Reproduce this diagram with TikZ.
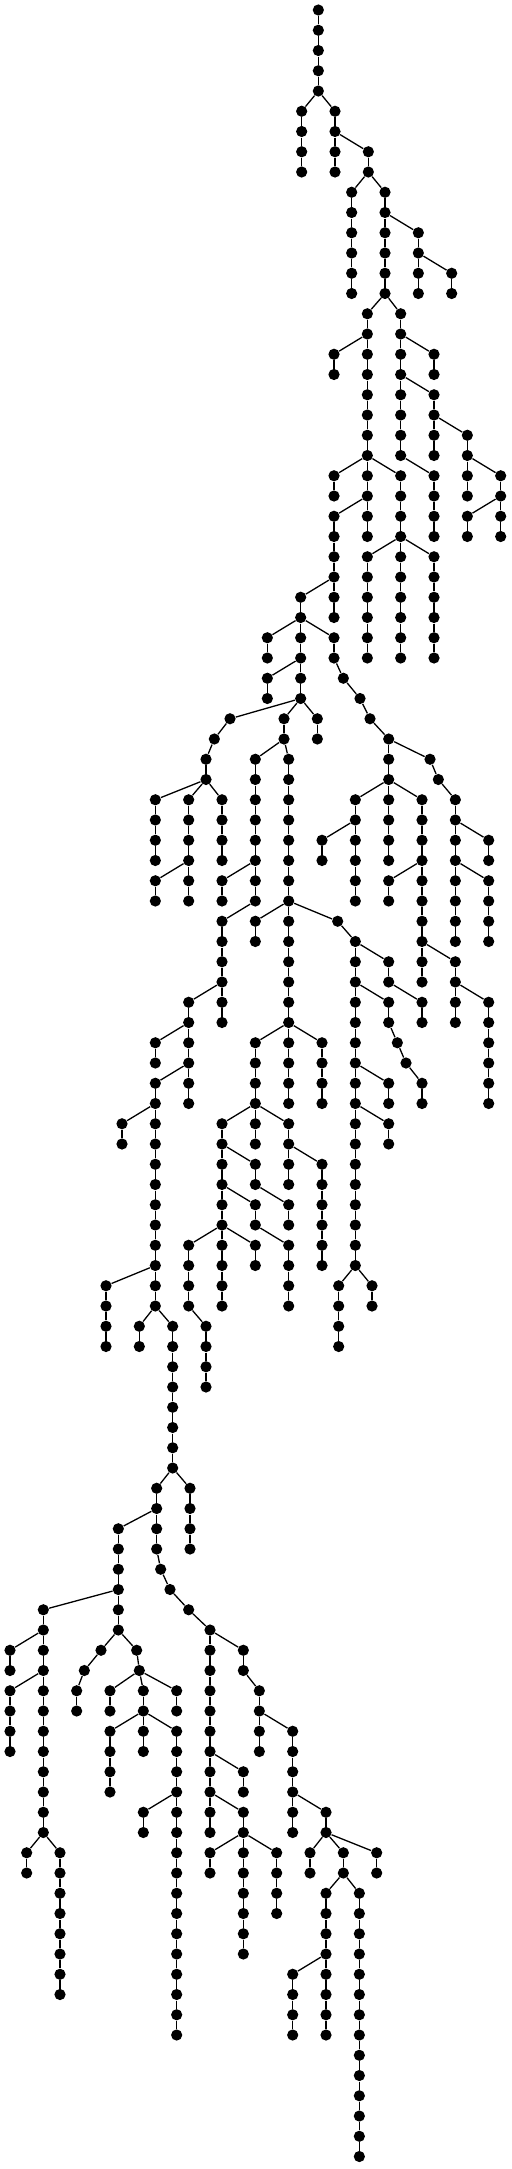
\documentclass[tikz,border=0pt]{standalone}
\begin{document}
\begin{tikzpicture}[x=0.16667pt, y=-10.125pt, % 1 unité x = 1/3 px, 1 unité y = un niveau
  sommet/.style={circle, fill=black, inner sep=0pt, minimum size=5.6pt},
  arete/.style={line width=0.65pt}]
  \useasboundingbox (0,-0.4938) rectangle (1533,106.6173);

  % Chaînes verticales : abscisse/premier niveau/dernier niveau
  \foreach \x/\a/\b in {955/0/4, 905/5/8, 1005/5/8, 1105/7/8, 1055/9/14, 1155/9/14,
      1255/11/14, 1355/13/14, 1102/15/26, 1202/15/22, 1002/17/18, 1302/17/18,
      1302/19/22, 1402/21/24, 1502/23/26, 1402/25/26, 1002/23/24, 1202/23/32,
      1302/23/26, 1002/25/30, 1102/27/32, 1302/27/32, 902/29/34, 802/31/32,
      1002/31/32, 802/33/34, 1030/33/33, 1080/34/34, 1110/35/35, 1166/36/42,
      1290/37/37, 1315/38/38, 1366/39/46, 1066/39/44, 1266/39/48, 966/41/42,
      1466/41/42, 1166/43/44, 1466/43/46, 1366/47/50, 1466/49/54, 690/35/35,
      852/35/36, 952/35/36, 643/36/36, 618/37/38, 466/39/42, 566/39/44, 666/39/42,
      766/37/44, 866/37/54, 466/43/44, 666/43/44, 666/45/50, 766/45/46, 1013/45/45,
      1066/46/62, 1166/47/48, 1266/49/50, 1166/49/50, 1192/51/51, 1218/52/52,
      1266/53/54, 1166/53/54, 1166/55/56, 566/49/54, 466/51/52, 466/53/64,
      366/55/56, 766/51/56, 966/51/54, 666/55/64, 866/55/58, 966/57/62, 766/57/58,
      866/59/60, 766/59/60, 866/61/64, 766/61/62, 566/61/64, 618/65/68, 318/63/66,
      418/65/66, 518/65/72, 1016/63/66, 1116/63/64, 470/73/76, 570/73/76,
      355/75/80, 482/77/77, 510/78/78, 566/79/79, 630/80/90, 130/79/90, 30/81/82,
      30/83/86, 80/91/92, 180/91/98, 303/81/81, 253/82/82, 230/83/84, 410/81/81,
      418/82/82, 330/83/84, 430/83/86, 530/83/84, 330/85/88, 530/85/100,
      430/89/90, 730/81/82, 778/83/86, 878/85/90, 978/89/90, 930/91/92,
      1030/91/92, 1130/91/92, 978/93/100, 1078/93/106, 878/97/100, 730/87/88,
      730/89/96, 630/91/92, 830/91/94} {
    \foreach \l in {\a,...,\b} {
      \node[sommet] (n\x-\l) at (\x,\l) {};
      \ifnum\l>\a
        \pgfmathtruncatemacro{\k}{\l-1}
        \draw[arete] (n\x-\k) -- (n\x-\l);
      \fi
    }
  }

  % Branches : parent/enfant
  \foreach \p/\c in {955-4/905-5, 955-4/1005-5, 1005-6/1105-7, 1105-8/1055-9,
      1105-8/1155-9, 1155-10/1255-11, 1255-12/1355-13, 1155-14/1102-15,
      1155-14/1202-15, 1102-16/1002-17, 1202-16/1302-17, 1202-18/1302-19,
      1302-20/1402-21, 1402-22/1502-23, 1502-24/1402-25, 1102-22/1002-23,
      1102-22/1202-23, 1202-22/1302-23, 1102-24/1002-25, 1202-26/1102-27,
      1202-26/1302-27, 1002-28/902-29, 902-30/802-31, 902-30/1002-31,
      902-32/802-33, 1002-32/1030-33, 1030-33/1080-34, 1080-34/1110-35,
      1110-35/1166-36, 1166-36/1290-37, 1290-37/1315-38, 1315-38/1366-39,
      1166-38/1066-39, 1166-38/1266-39, 1066-40/966-41, 1366-40/1466-41,
      1266-42/1166-43, 1366-42/1466-43, 1266-46/1366-47, 1366-48/1466-49,
      902-34/690-35, 902-34/852-35, 902-34/952-35, 690-35/643-36, 643-36/618-37,
      618-38/466-39, 618-38/566-39, 618-38/666-39, 852-36/766-37, 852-36/866-37,
      566-42/466-43, 766-42/666-43, 766-44/666-45, 866-44/766-45, 866-44/1013-45,
      1013-45/1066-46, 1066-46/1166-47, 1166-48/1266-49, 1066-48/1166-49,
      1166-50/1192-51, 1192-51/1218-52, 1218-52/1266-53, 1066-52/1166-53,
      1066-54/1166-55, 666-48/566-49, 566-50/466-51, 566-52/466-53,
      466-54/366-55, 866-50/766-51, 866-50/966-51, 766-54/666-55, 766-54/866-55,
      866-56/966-57, 666-56/766-57, 766-58/866-59, 666-58/766-59, 766-60/866-61,
      666-60/766-61, 666-60/566-61, 566-64/618-65, 466-62/318-63, 466-64/418-65,
      466-64/518-65, 1066-62/1016-63, 1066-62/1116-63, 518-72/470-73,
      518-72/570-73, 470-74/355-75, 470-76/482-77, 482-77/510-78, 510-78/566-79,
      566-79/630-80, 355-78/130-79, 130-80/30-81, 130-82/30-83, 130-90/80-91,
      130-90/180-91, 355-80/303-81, 303-81/253-82, 253-82/230-83, 355-80/410-81,
      410-81/418-82, 418-82/330-83, 418-82/430-83, 418-82/530-83, 430-84/330-85,
      430-84/530-85, 530-88/430-89, 630-80/730-81, 730-82/778-83, 778-84/878-85,
      878-88/978-89, 978-90/930-91, 978-90/1030-91, 978-90/1130-91,
      1030-92/978-93, 1030-92/1078-93, 978-96/878-97, 630-86/730-87,
      630-88/730-89, 730-90/630-91, 730-90/830-91}
    \draw[arete] (n\p) -- (n\c);
\end{tikzpicture}
\end{document}
